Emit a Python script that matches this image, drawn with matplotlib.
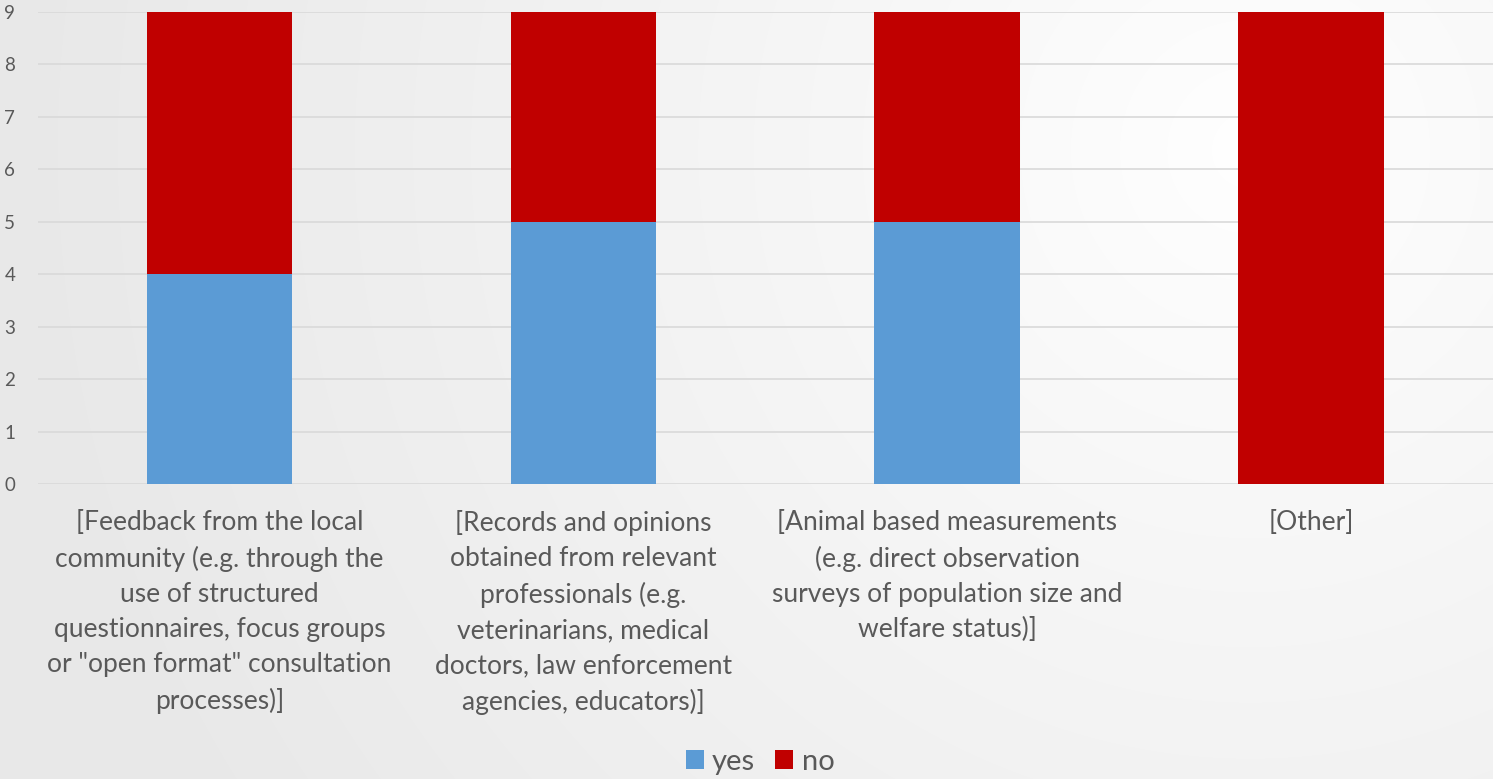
import numpy as np
import matplotlib.pyplot as plt

categories = [
    '[Feedback from the local\ncommunity (e.g. through the\nuse of structured\nquestionnaires, focus groups\nor "open format" consultation\nprocesses)]',
    '[Records and opinions\nobtained from relevant\nprofessionals (e.g.\nveterinarians, medical\ndoctors, law enforcement\nagencies, educators)]',
    '[Animal based measurements\n(e.g. direct observation\nsurveys of population size and\nwelfare status)]',
    '[Other]',
]
yes = [4, 5, 5, 0]
no = [5, 4, 4, 9]

plt.rcParams['font.family'] = ['Lato', 'DejaVu Sans']
txt = '#595959'

fig = plt.figure(figsize=(14.93, 7.79), dpi=100)

# soft radial background
bg = fig.add_axes([0, 0, 1, 1], zorder=-10)
W, H = 1493, 779
xx, yy = np.meshgrid(np.arange(W), np.arange(H))
r = np.hypot(xx - 1250, yy - 150) / 1250
r = np.clip(r, 0, 1)
shade = 1.0 - 0.09 * r ** 0.9
bg.imshow(np.dstack([shade] * 3), aspect='auto', extent=[0, 1, 0, 1])
bg.axis('off')

ax = fig.add_axes([37.5 / W, 1 - 484 / H, 1 - 37.5 / W, 472 / H])
ax.patch.set_alpha(0)
x = np.arange(len(categories))
ax.bar(x, yes, 0.4, color='#5b9bd5', label='yes', zorder=3)
ax.bar(x, no, 0.4, bottom=yes, color='#c00000', label='no', zorder=3)

ax.set_xlim(-0.5, 3.5)
ax.set_ylim(0, 9)
ax.set_yticks(range(10))
ax.yaxis.grid(True, color='#d9d9d9', linewidth=1.2, zorder=0)
ax.set_xticks(x)
ax.set_xticklabels(categories, fontsize=19, color=txt, linespacing=1.5, va='top')
for s in ax.spines.values():
    s.set_visible(False)
ax.tick_params(axis='both', length=0)
ax.tick_params(axis='x', pad=19)
ax.tick_params(axis='y', pad=16, labelsize=13.5, labelcolor=txt)

fig.legend(loc='center', bbox_to_anchor=(760 / W, 1 - 762 / H), ncol=2, frameon=False,
           fontsize=21, labelcolor=txt, handlelength=0.62, handleheight=0.62,
           handletextpad=0.28, columnspacing=0.7, borderpad=0)

fig.savefig('out.png', dpi=100)
